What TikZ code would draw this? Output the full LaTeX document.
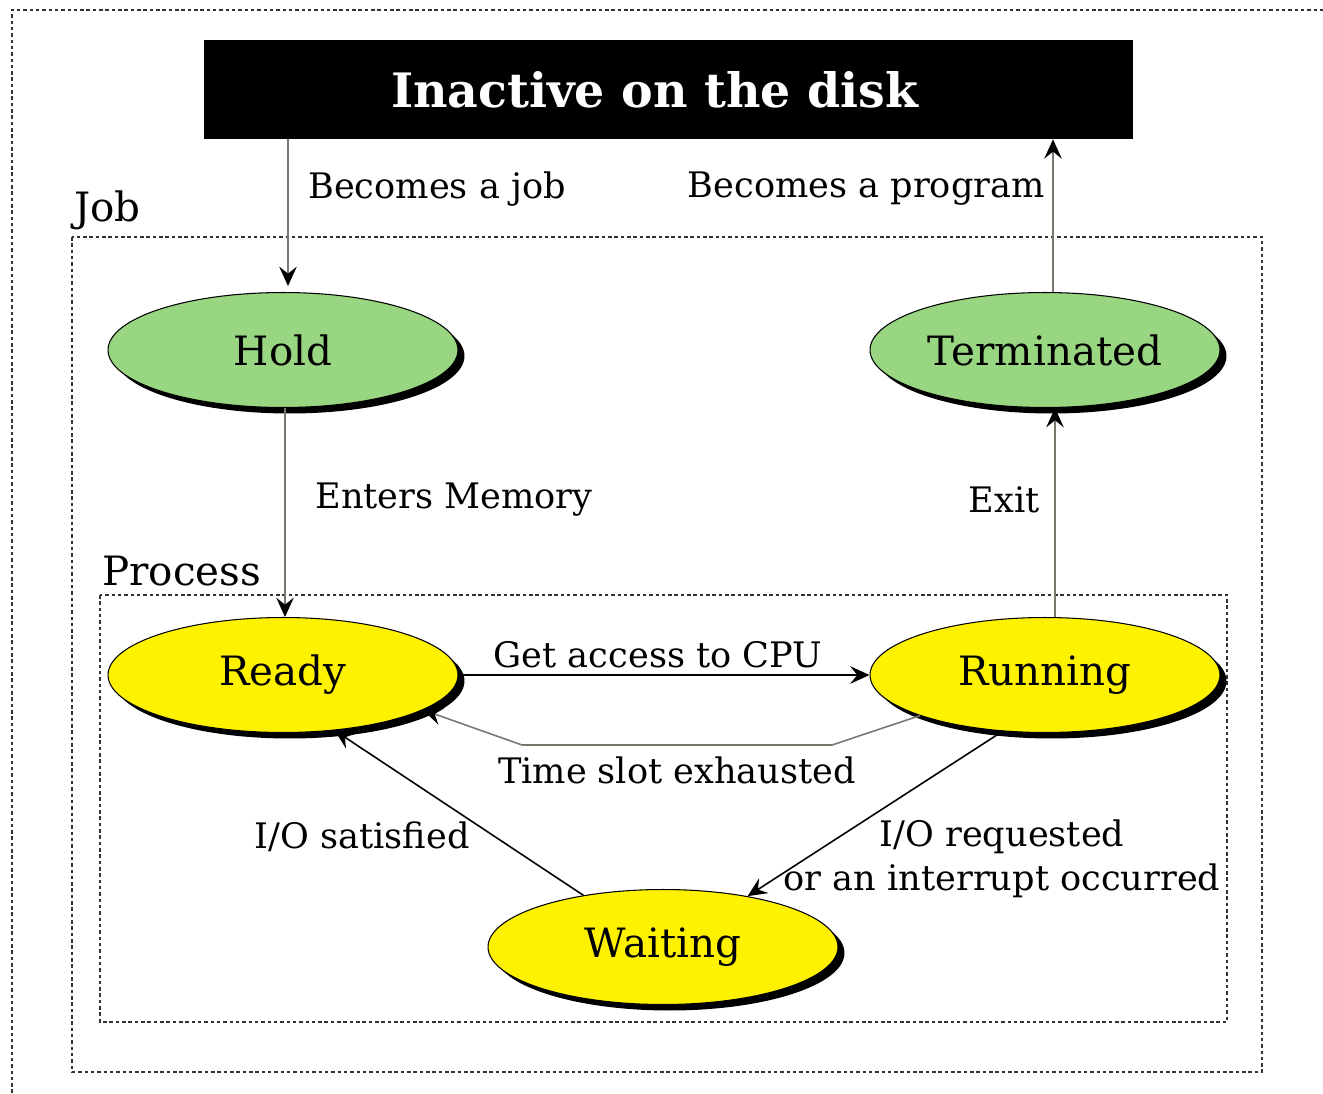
\documentclass[tikz,border=0pt]{standalone}
\usepackage{fontspec}
\setmainfont{DejaVu Serif}
\usetikzlibrary{arrows.meta,shadows,shapes.geometric}

\definecolor{jobgreen}{RGB}{153,214,129}
\definecolor{linegray}{RGB}{120,120,110}

\tikzset{
	statenode/.style={ellipse, draw=black, line width=0.6pt, minimum width=7cm, minimum height=2.3cm,
		font=\fontsize{23}{27}\selectfont,
		drop shadow={shadow xshift=0.13cm, shadow yshift=-0.12cm, opacity=1, fill=black}},
	jobnode/.style={statenode, fill=jobgreen},
	procnode/.style={statenode, fill=yellow},
	trans/.style={-{Stealth[length=11pt, width=10pt, inset=4pt, color=black]}, line width=0.9pt},
	lbl/.style={font=\fontsize{20}{25}\selectfont, inner sep=0pt},
	boxlbl/.style={font=\fontsize{23}{27}\selectfont, inner sep=0pt},
	frame/.style={dash pattern=on 2pt off 1.6pt, line width=0.7pt, black!80}
}

\begin{document}
\begin{tikzpicture}[x=0.02cm, y=-0.02cm]
\useasboundingbox (0,0) rectangle (1323,1093);

% frames
\draw[frame] (12,1093) -- (12,10) -- (1323,10);
\draw[frame] (72,237) rectangle (1262,1072);
\draw[frame] (100,595) rectangle (1227,1022);
\node[boxlbl, anchor=south west] (joblbl) at (74,230) {Job};
\node[boxlbl, anchor=south west] (proclbl) at (102,586) {Process};

% disk
\node (disk) [fill=black, text=white, minimum width=18.58cm, minimum height=1.98cm,
	font=\bfseries\fontsize{27}{32}\selectfont] at (668.5,89.5) {Inactive on the disk\hspace*{0.56cm}};

% states
\node[jobnode] (hold) at (283,350) {Hold};
\node[jobnode] (term) at (1045,350) {Terminated};
\node[procnode] (ready) at (283,675) {Ready};
\node[procnode] (running) at (1045,675) {Running};
\node[procnode] (waiting) at (663,947) {Waiting};

% transitions
\draw[trans, linegray] (disk.south -| 288,0) -- (288,286);
\draw[trans, linegray] (term.north -| 1053,0) -- (disk.south -| 1053,0);
\draw[trans, linegray] (hold.south -| 285,0) -- (ready.north -| 285,0);
\draw[trans, linegray] (running.north -| 1055,0) -- (term.south -| 1055,0);
\draw[trans] (ready.east) -- (running.west);
\coordinate (ts1) at (832,745);
\coordinate (ts2) at (522,745);
\draw[trans, linegray] (running.198) -- (ts1) -- (ts2) -- (ready.-14);
\draw[trans] (waiting.147) -- (ready.-47);
\draw[trans] (running.233) -- (waiting.31);

% labels
\node[lbl, anchor=west] (jobtxt) at (308,189) {Becomes a job};
\node[lbl, anchor=east] (progtxt) at (1045,189) {Becomes a program};
\node[lbl, anchor=west] (memtxt) at (315,500) {Enters Memory};
\node[lbl, anchor=east] (exittxt) at (1040,500) {Exit};
\node[lbl] (cputxt) at (658,655) {Get access to CPU};
\node[lbl] (slottxt) at (677,770) {Time slot exhausted};
\node[lbl, anchor=east] (sattxt) at (470,837) {I/O satisfied};
\node[lbl, align=center] (reqtxt) at (1002,859) {I/O requested\\or an interrupt occurred};
\end{tikzpicture}
\end{document}
